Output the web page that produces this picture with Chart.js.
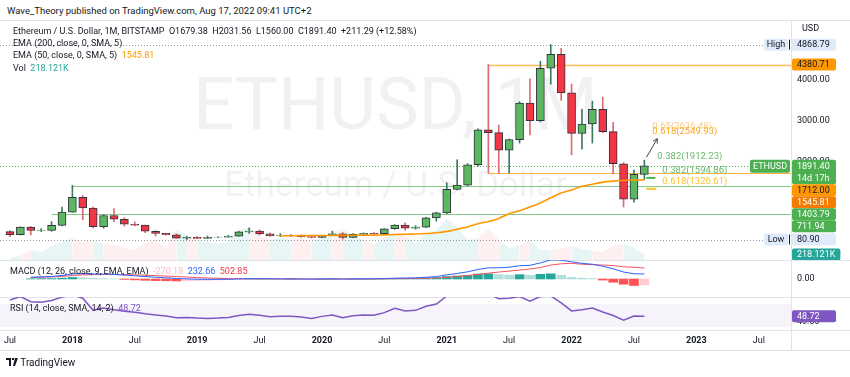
<!DOCTYPE html>
<html><head><meta charset="utf-8"><title>ETHUSD 1M</title>
<script src="https://cdn.jsdelivr.net/npm/chart.js@4.4.1/dist/chart.umd.min.js"></script>
<style>
html,body{margin:0;padding:0;background:#fff}
body{width:850px;height:377px;overflow:hidden;position:relative;font-family:Roboto,'Noto Sans',Arial,sans-serif;color:#131722}
.t{position:absolute;white-space:nowrap;font-size:9px;line-height:11px;z-index:3}
canvas{position:absolute;left:0;z-index:2}
.hl{position:absolute;left:0;width:850px;height:1px;background:#e0e3eb;z-index:1}
.wm{position:absolute;left:0;width:791px;text-align:center;color:rgba(120,123,134,0.11);z-index:1;white-space:nowrap}
</style></head><body>
<div class="t" style="left:7px;top:5px;font-size:9.5px">Wave_Theory published on TradingView.com, Aug 17, 2022 09:41 UTC+2</div>
<div class="hl" style="top:20px"></div>
<div class="hl" style="top:260px"></div>
<div class="hl" style="top:297px"></div>
<div class="hl" style="top:330px"></div>
<div class="hl" style="top:350px"></div>
<div style="position:absolute;left:791px;top:20px;width:1px;height:331px;background:#e0e3eb;z-index:1"></div>
<div class="wm" style="top:69px;font-size:72px;line-height:72px">ETHUSD, 1M</div>
<div class="wm" style="top:167px;font-size:35px;line-height:35px">Ethereum / U.S. Dollar</div>
<canvas id="c1" width="850" height="240" style="top:20px"></canvas>
<canvas id="c2" width="850" height="37" style="top:260px"></canvas>
<canvas id="c3" width="850" height="53" style="top:297px"></canvas>
<div class="t" id="lg1" style="left:13px;top:26px"></div>
<div class="t" style="left:13px;top:38px">EMA (200, close, 0, SMA, 5)</div>
<div class="t" id="lg3" style="left:13px;top:50px"></div>
<div class="t" id="lg4" style="left:13px;top:63px"></div>
<div class="t" id="lg5" style="left:10px;top:266px"></div>
<div class="t" id="lg6" style="left:10px;top:303px"></div>
<div class="t" style="left:6px;top:357px;font-size:10px;line-height:12px"><svg width="12" height="8" viewBox="0 0 12 8" style="vertical-align:-0px"><path d="M0 0h5v8H3V2H0z M6 0h2v2H6z M9 0h3L9 8H7z" fill="#131722"/></svg> TradingView</div>
<script>
// ---------------- data ----------------
const months = ['2017-07','2017-08','2017-09','2017-10','2017-11','2017-12',
'2018-01','2018-02','2018-03','2018-04','2018-05','2018-06','2018-07','2018-08','2018-09','2018-10','2018-11','2018-12',
'2019-01','2019-02','2019-03','2019-04','2019-05','2019-06','2019-07','2019-08','2019-09','2019-10','2019-11','2019-12',
'2020-01','2020-02','2020-03','2020-04','2020-05','2020-06','2020-07','2020-08','2020-09','2020-10','2020-11','2020-12',
'2021-01','2021-02','2021-03','2021-04','2021-05','2021-06','2021-07','2021-08','2021-09','2021-10','2021-11','2021-12',
'2022-01','2022-02','2022-03','2022-04','2022-05','2022-06','2022-07','2022-08'];
const open  = [275,200,388,302,305,430,755,1118,855,395, 670,578,455,433,283,232,197,113,133,107,
 136,141,162,268,290,218,172,180,182,151, 130,180,218,133,206,231,225,345,435,360,
 386,614,737,1314,1416,1918,2773,2706,2275,2536, 3433,3001,4288,4630,3683,2688,2920,3282,2730,1942, 1070,1679.38];
const high  = [300,392,400,350,520,880,1410,1160,880,690, 840,620,515,435,300,235,224,160,160,166,
 148,185,285,365,320,238,225,200,195,153, 184,288,253,227,245,253,348,445,488,420,
 623,755,1475,2040,1945,2800,4380.71,2890,2550,3470, 4030,4460,4868.79,4780,3900,3280,3480,3580,2960,1970, 1785,2031.56];
const low   = [150,195,195,275,285,415,750,565,365,360, 520,410,420,250,167,185,105,80.90,100,104,
 127,137,159,230,187,162,152,153,138,117, 127,178,90,126,178,217,220,334,309,336,
 371,535,715,1300,1400,1880,1712,1700,1720,2450, 2650,2970,3900,3500,2160,2300,2450,2700,1700,880, 1000,1560];
const close = [200,388,302,305,430,755,1118,855,395,670, 578,455,433,283,232,197,113,133,107,136,
 141,162,268,290,218,172,180,182,151,130, 180,218,133,206,231,225,345,435,360,386,
 614,737,1314,1416,1918,2773,2706,2275,2536,3433, 3001,4288,4630,3683,2688,2920,3282,2730,1942,1070, 1680.11,1891.40];
const volumeK = [80,200,400,320,560,720,880,720,800,640, 600,480,400,680,800,480,1240,1000,800,720,
 640,720,1200,1320,960,800,880,800,880,720, 880,1120,1240,960,800,600,880,1040,960,680,
 1040,1200,1640,1320,800,880,1240,800,480,600, 800,400,400,480,560,440,360,320,560,640, 480,218.121];
const ema50 = [null,null,null,null,null,null,null,null,null,null, null,null,null,null,null,null,null,null,null,null,
 null,null,null,null,null,null,172,174,176,177, 179,181,182,184,186,189,195,203,210,216,
 228,248,280,335,390,470,525,600,715,790, 880,980,1105,1225,1300,1390,1440,1490,1515,1530, 1540,1545.81];
const macdLine = [null,null,80,95,115,160,230,250,230,225, 210,180,150,115,80,55,25,5,-10,-15,
 -15,-12,5,15,15,10,6,5,2,-2, 2,8,0,3,7,9,20,38,47,55,
 80,110,190,255,330,440,510,520,540,610, 630,740,880,870,790,720,680,590,470,320, 240,232.66];
const signalLine = [null,null,70,80,95,120,160,190,200,205, 205,200,190,175,155,135,115,90,65,45,
 30,18,10,5,3,0,-2,-3,-4,-6, -6,-4,-6,-5,-3,-1,5,13,19,25,
 35,50,80,115,160,210,270,320,365,410, 460,525,640,700,720,680,660,640,620,560, 540,502.85];
const macdHist = [null,null,10,15,20,40,70,60,30,20, 5,-20,-40,-60,-75,-80,-90,-85,-75,-60,
 -45,-30,-5,10,12,10,8,8,6,4, 8,12,6,8,10,10,15,25,28,30,
 45,60,110,140,170,230,240,200,175,200, 170,215,240,170,70,40,20,-50,-150,-240, -300,-270.18];
const rsi14 = [77,83,74,73,76,82,86,80,59,63, 60,57.5,55.5,53,51,49,46,46.5,45.5,45,
 45.5,46.5,50,52,50.5,48,48.5,48.5,47.5,45, 48.5,51,46,49.5,51,50.5,55,62.5,58,59,
 66,70,84,86,88,90,88,79,80,83, 75,83,84,72,58,60,63,56,50,42, 49,48.72];
const xTickMonths = ['2017-07','2018-01','2018-07','2019-01','2019-07','2020-01','2020-07','2021-01','2021-07','2022-01','2022-07','2023-01','2023-07'];
const xTickText = ['Jul','2018','Jul','2019','Jul','2020','Jul','2021','Jul','2022','Jul','2023','Jul'];
const priceTicks = [2000,3000,4000];
const macdTicks = [0];
const rsiTicks = [40];
const levelValues = [4380.71, 1712.00, 1403.79, 711.94];
const levelFrom   = ['2021-05','2021-05','2018-01','2017-11'];
const fibValues = [2636.48, 2549.93, 1912.23, 1594.86, 1326.61];
const fibRatios = ['0.65','0.618','0.382','0.382','0.618'];
const priceHigh = 4868.79, priceLow = 80.90;
const countdown = '14d 17h';

// ---------------- helpers ----------------
const FAM = "Roboto, 'Noto Sans', Arial, sans-serif";
Chart.defaults.font.family = FAM;
const N = months.length, L = N - 1;
const mIndex = s => { const [yy, mm] = s.split('-').map(Number); return (yy - 2017) * 12 + (mm - 7); };
const up = i => close[i] >= open[i];
const f2 = v => v.toFixed(2);
const xMin = -0.96, xMax = 75.1;
const xScale = {type:'linear', min:xMin, max:xMax, display:false, offset:false, grid:{display:false}};
function fixAxis(w){ return s => { s.width = w; s.paddingTop = 0; s.paddingBottom = 0; }; }
function yAxis(min, max, ticks){
  return {position:'right', min, max, grid:{display:false, drawTicks:false}, border:{display:false},
    afterBuildTicks: s => { s.ticks = ticks.map(v => ({value:v})); },
    ticks:{padding:6, color:'#131722', font:{size:9}, callback: v => f2(v)},
    afterFit: fixAxis(59)};
}
const baseOpts = {responsive:false, animation:false, devicePixelRatio:1, layout:{padding:0},
  plugins:{legend:{display:false}, tooltip:{enabled:false}}, events:[]};

function box(ctx, x, y, w, h, bg){ ctx.fillStyle = bg; ctx.beginPath(); ctx.roundRect(x, y, w, h, 2); ctx.fill(); }
function dashLine(ctx, x1, x2, y, color, dash, w){
  ctx.save(); ctx.strokeStyle = color; ctx.lineWidth = w || 1; ctx.setLineDash(dash || []);
  ctx.beginPath(); ctx.moveTo(x1, Math.round(y) + 0.5); ctx.lineTo(x2, Math.round(y) + 0.5); ctx.stroke(); ctx.restore();
}

// legends
document.getElementById('lg1').innerHTML = 'Ethereum / U.S. Dollar, 1M, BITSTAMP&nbsp; O' + f2(open[L]) + '&nbsp; H' + f2(high[L]) +
  '&nbsp; L' + f2(low[L]) + '&nbsp; C' + f2(close[L]) + '&nbsp; ' + (close[L] - close[L-1] >= 0 ? '+' : '') + f2(close[L] - close[L-1]) +
  ' (+' + f2((close[L] - close[L-1]) / close[L-1] * 100) + '%)';
document.getElementById('lg3').innerHTML = 'EMA (50, close, 0, SMA, 5)&nbsp; <span style="color:#ff9800">' + f2(ema50[L]) + '</span>';
document.getElementById('lg4').innerHTML = 'Vol&nbsp; <span style="color:#26a69a">' + volumeK[L].toFixed(3) + 'K</span>';
document.getElementById('lg5').innerHTML = 'MACD (12, 26, close, 9, EMA, EMA)&nbsp; <span style="color:#f8bbd0">' + f2(macdHist[L]) +
  '</span>&nbsp; <span style="color:#2962ff">' + f2(macdLine[L]) + '</span>&nbsp; <span style="color:#f23645">' + f2(signalLine[L]) + '</span>';
document.getElementById('lg6').innerHTML = 'RSI (14, close, SMA, 14, 2)&nbsp; <span style="color:#7e57c2">' + f2(rsi14[L]) + '</span>';

// ---------------- main pane ----------------
const mainOverlay = {
  id:'mainOverlay',
  beforeDatasetsDraw(ch){
    const {ctx, chartArea:a, scales:{x, y}} = ch;
    ctx.save();
    const cols = ['rgba(255,183,77,0.95)','rgba(255,167,38,0.85)','rgba(102,187,106,0.8)','rgba(102,187,106,0.8)'];
    levelValues.forEach((v, k) => dashLine(ctx, x.getPixelForValue(mIndex(levelFrom[k])), a.right, y.getPixelForValue(v), cols[k], [], k === 0 ? 1.5 : 1));
    dashLine(ctx, a.left, a.right - 28, y.getPixelForValue(priceHigh), '#9598a1', [1,2]);
    dashLine(ctx, a.left, a.right - 28, y.getPixelForValue(priceLow), '#9598a1', [1,2]);
    dashLine(ctx, a.left, a.right - 41, y.getPixelForValue(close[L]), '#4caf50', [1,2]);
    ctx.restore();
  },
  afterDatasetsDraw(ch){
    const {ctx, scales:{x, y}} = ch;
    ctx.save();
    const xl = x.getPixelForValue(L);
    // fib segments
    ctx.lineWidth = 2;
    ctx.strokeStyle = '#4caf50';
    ctx.beginPath(); ctx.moveTo(xl + 2, y.getPixelForValue(fibValues[3])); ctx.lineTo(xl + 11, y.getPixelForValue(fibValues[3])); ctx.stroke();
    ctx.strokeStyle = '#fbc02d';
    ctx.beginPath(); ctx.moveTo(xl + 2, y.getPixelForValue(fibValues[4])); ctx.lineTo(xl + 12, y.getPixelForValue(fibValues[4])); ctx.stroke();
    // fib labels
    ctx.font = '9.5px ' + FAM; ctx.textBaseline = 'middle'; ctx.textAlign = 'left';
    const fc = ['#ffcc80','#f9a825','#66bb6a','#66bb6a','#fbc02d'];
    const fx = [8, 8, 13, 18, 18];
    const fdy = [-8.5, -7, -8, -7, -7];
    fibValues.forEach((v, k) => { ctx.fillStyle = fc[k]; ctx.fillText(fibRatios[k] + '(' + f2(v) + ')', xl + fx[k], y.getPixelForValue(v) + fdy[k]); });
    // arrow
    const x1 = x.getPixelForValue(L + 0.2), y1 = y.getPixelForValue(2100), x2 = x.getPixelForValue(L + 1.25), y2 = y.getPixelForValue(2560);
    ctx.strokeStyle = '#434651'; ctx.lineWidth = 1;
    ctx.beginPath(); ctx.moveTo(x1, y1); ctx.lineTo(x2, y2); ctx.stroke();
    const ang = Math.atan2(y2 - y1, x2 - x1);
    ctx.beginPath();
    ctx.moveTo(x2 - 5 * Math.cos(ang - 0.5), y2 - 5 * Math.sin(ang - 0.5)); ctx.lineTo(x2, y2);
    ctx.lineTo(x2 - 5 * Math.cos(ang + 0.5), y2 - 5 * Math.sin(ang + 0.5)); ctx.stroke();
    ctx.restore();
  },
  afterDraw(ch){
    const {ctx, chartArea:a, scales:{y, yVol}} = ch;
    ctx.save();
    ctx.font = '9px ' + FAM; ctx.textBaseline = 'middle'; ctx.textAlign = 'left';
    const ax = a.right;
    const items = [
      {c:y.getPixelForValue(priceHigh), t:[f2(priceHigh)], bg:'#dfeafb', fg:'#131722', tag:'High'},
      {c:y.getPixelForValue(levelValues[0]), t:[f2(levelValues[0])], bg:'#ff9800', fg:'#131722'},
      {c:y.getPixelForValue(close[L]), t:[f2(close[L]), countdown], bg:'#4caf50', fg:'#ffffff', name:'ETHUSD'},
      {c:y.getPixelForValue(levelValues[1]), t:[f2(levelValues[1])], bg:'#ff9800', fg:'#131722'},
      {c:y.getPixelForValue(ema50[L]), t:[f2(ema50[L])], bg:'#f57c00', fg:'#ffffff'},
      {c:y.getPixelForValue(levelValues[2]), t:[f2(levelValues[2])], bg:'#4caf50', fg:'#ffffff'},
      {c:y.getPixelForValue(levelValues[3]), t:[f2(levelValues[3])], bg:'#4caf50', fg:'#ffffff'},
      {c:y.getPixelForValue(priceLow), t:[f2(priceLow)], bg:'#dfeafb', fg:'#131722', tag:'Low'},
      {c:yVol.getPixelForValue(volumeK[L]), t:[volumeK[L].toFixed(3) + 'K'], bg:'#26a69a', fg:'#ffffff'}
    ].sort((p, q) => p.c - q.c);
    let prevBottom = -1e9;
    const H = 12;
    items.forEach(it => {
      let top = Math.max(it.c - H / 2, prevBottom);
      const h = H + (it.t.length - 1) * 12.5;
      const w = Math.max(44, ctx.measureText(it.t[0]).width + 10);
      box(ctx, ax + 1, top, w, h, it.bg);
      ctx.fillStyle = it.fg;
      it.t.forEach((s, j) => ctx.fillText(s, ax + 6, top + H / 2 + j * 12.5 + 0.5));
      if (it.tag){
        box(ctx, ax - 27, top, 24, H, it.bg);
        ctx.fillStyle = '#131722'; ctx.textAlign = 'center'; ctx.fillText(it.tag, ax - 15, top + H / 2 + 0.5); ctx.textAlign = 'left';
        ctx.fillStyle = '#131722'; ctx.fillRect(ax - 2, top + 1, 1, H - 2);
      }
      if (it.name){
        box(ctx, ax - 41, top, 40, 13, it.bg);
        ctx.fillStyle = '#ffffff'; ctx.textAlign = 'center'; ctx.fillText(it.name, ax - 21, top + 6.5 + 0.5); ctx.textAlign = 'left';
      }
      prevBottom = top + h;
    });
    ctx.fillStyle = '#131722';
    ctx.fillText('USD', ax + 11, 9);
    ctx.restore();
  }
};

new Chart(document.getElementById('c1'), {
  type:'bar',
  data:{datasets:[
    {type:'line', data:volumeK.map((v, i) => ({x:i, y:v})), yAxisID:'yVol', fill:'origin', borderWidth:0, pointRadius:0, tension:0,
      backgroundColor:'rgba(38,166,154,0.11)', order:9,
      segment:{backgroundColor: c => up(c.p1DataIndex) ? 'rgba(38,166,154,0.11)' : 'rgba(242,54,69,0.08)'}},
    {type:'bar', data:months.map((m, i) => ({x:i, y:[low[i], high[i]]})), grouped:false, barThickness:1, order:4,
      backgroundColor: c => up(c.dataIndex) ? '#3d7a63' : '#e06a72', borderWidth:0},
    {type:'bar', data:months.map((m, i) => ({x:i, y:[open[i], close[i]]})), grouped:false, barThickness:8, order:3,
      backgroundColor: c => up(c.dataIndex) ? '#5cb860' : '#f23645', borderColor:'#2f333d', borderWidth:1, borderSkipped:false},
    {type:'line', data:ema50.map((v, i) => ({x:i, y:v})), borderColor:'#ff9800', borderWidth:1.6, pointRadius:0, tension:0.2, order:1}
  ]},
  options:Object.assign({}, baseOpts, {scales:{
    x:xScale,
    y:Object.assign(yAxis(-422.6, 5474.2, priceTicks)),
    yVol:{display:false, min:0, max:9600}
  }}),
  plugins:[mainOverlay]
});

// ---------------- MACD pane ----------------
function histColor(i){
  const v = macdHist[i], p = macdHist[i - 1];
  if (v >= 0) return (p == null || v >= p) ? '#26a69a' : '#b2dfdb';
  return (p == null || v <= p) ? '#ff5252' : '#ffcdd2';
}
new Chart(document.getElementById('c2'), {
  type:'bar',
  data:{datasets:[
    {type:'bar', data:macdHist.map((v, i) => ({x:i, y:v})), grouped:false, barThickness:9, order:3,
      backgroundColor: c => histColor(c.dataIndex)},
    {type:'line', data:signalLine.map((v, i) => ({x:i, y:v})), borderColor:'#f7525f', borderWidth:1, pointRadius:0, order:2},
    {type:'line', data:macdLine.map((v, i) => ({x:i, y:v})), borderColor:'#2962ff', borderWidth:1, pointRadius:0, order:1}
  ]},
  options:Object.assign({}, baseOpts, {scales:{x:xScale, y:yAxis(-828, 874, macdTicks)}})
});

// ---------------- RSI pane + time axis ----------------
const rsiOverlay = {
  id:'rsiOverlay',
  beforeDatasetsDraw(ch){
    const {ctx, chartArea:a, scales:{y}} = ch;
    ctx.save(); ctx.fillStyle = 'rgba(126,87,194,0.07)';
    const t = y.getPixelForValue(70), b = y.getPixelForValue(30);
    ctx.fillRect(a.left, t, a.right - a.left, b - t); ctx.restore();
  },
  afterDraw(ch){
    const {ctx, chartArea:a, scales:{y}} = ch;
    ctx.save(); ctx.font = '9px ' + FAM; ctx.textBaseline = 'middle';
    const c = y.getPixelForValue(rsi14[L]);
    box(ctx, a.right + 1, c - 6, 44, 12, '#7e57c2');
    ctx.fillStyle = '#fff'; ctx.fillText(f2(rsi14[L]), a.right + 6, c + 0.5);
    ctx.restore();
  }
};
const tickIdx = xTickMonths.map(mIndex);
new Chart(document.getElementById('c3'), {
  type:'line',
  data:{datasets:[
    {data:rsi14.map((v, i) => ({x:i, y:v})), borderColor:'#7e57c2', borderWidth:1.5, pointRadius:0, tension:0}
  ]},
  options:Object.assign({}, baseOpts, {scales:{
    x:{type:'linear', min:xMin, max:xMax, offset:false, position:'bottom', grid:{display:false, drawTicks:false}, border:{display:false},
      afterBuildTicks: s => { s.ticks = tickIdx.map(v => ({value:v})); },
      afterFit: s => { s.height = 20; s.paddingLeft = 0; s.paddingRight = 0; },
      ticks:{autoSkip:false, maxRotation:0, padding:5, color:'#131722',
        callback: v => xTickText[tickIdx.indexOf(v)],
        font: c => ({size:9, weight: (c.tick && xTickText[tickIdx.indexOf(c.tick.value)] !== 'Jul') ? 'bold' : 'normal'})}},
    y:yAxis(24.8, 82.2, rsiTicks)
  }}),
  plugins:[rsiOverlay]
});
</script>
</body></html>
